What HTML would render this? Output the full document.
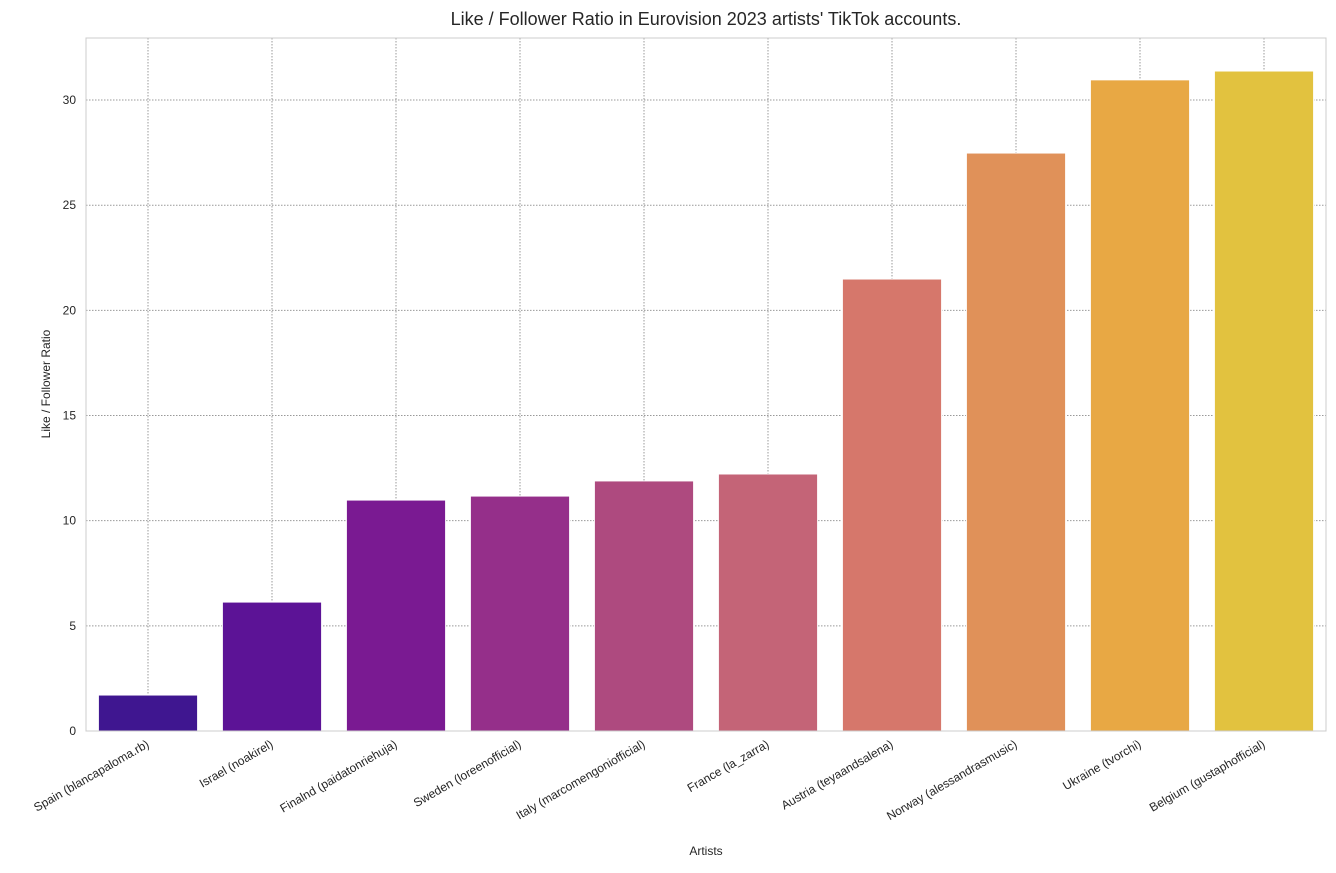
<!DOCTYPE html>
<html><head><meta charset="utf-8"><style>
html,body{margin:0;padding:0;background:#fff;}
svg text{font-family:"Liberation Sans",sans-serif;fill:#262626;}
</style></head><body>
<svg id="chart" width="1336" height="868">
<text x="706" y="25" font-size="18" text-anchor="middle">Like / Follower Ratio in Eurovision 2023 artists' TikTok accounts.</text>
<g id="grid"></g>
<g id="bars"></g>
<rect x="86" y="38" width="1240" height="693" fill="none" stroke="#cccccc" stroke-width="1"/>
<g id="yticks"></g>
<g id="xticks"></g>
<text transform="translate(50,384) rotate(-90)" font-size="12" text-anchor="middle">Like / Follower Ratio</text>
<text x="706" y="855" font-size="12" text-anchor="middle">Artists</text>
</svg>
<script>
const categories=["Spain (blancapaloma.rb)","Israel (noakirel)","Finalnd (paidatonriehuja)","Sweden (loreenofficial)","Italy (marcomengoniofficial)","France (la_zarra)","Austria (teyaandsalena)","Norway (alessandrasmusic)","Ukraine (tvorchi)","Belgium (gustaphofficial)"];
const values=[1.71,6.13,10.98,11.17,11.89,12.22,21.49,27.48,30.96,31.38];
const yTicks=[0,5,10,15,20,25,30];
const colors=["#3f1690","#5c1396","#7a1a92","#952f8a","#ae4a7f","#c46477","#d6776b","#e09159","#e8a844","#e2c23f"];
const X0=86,X1=1326,Y0=731,YT=38,YMAX=32.95;
const ns="http://www.w3.org/2000/svg";
const step=(X1-X0)/categories.length;
function xc(i){return X0+step*(i+0.5);}
function y(v){return Y0-(Y0-YT)*v/YMAX;}
const grid=document.getElementById('grid'),bars=document.getElementById('bars'),yt=document.getElementById('yticks'),xt=document.getElementById('xticks');
function mk(t,a){const e=document.createElementNS(ns,t);for(const k in a)e.setAttribute(k,a[k]);return e;}
yTicks.forEach(v=>{
 const l=mk('line',{x1:X0,x2:X1,y1:y(v),y2:y(v),stroke:'#999',"stroke-dasharray":"1.5,1.5","stroke-width":1});
 
 
 grid.appendChild(l);
 const t=mk('text',{x:X0-10,y:y(v)+4,"font-size":12,"text-anchor":"end"});
 t.textContent=v;
 
 
 yt.appendChild(t);
});
categories.forEach((c,i)=>{
 const l=mk('line',{x1:xc(i),x2:xc(i),y1:YT,y2:Y0,stroke:'#999',"stroke-dasharray":"1.5,1.5","stroke-width":1});
 
 
 grid.appendChild(l);
 const bw=step*0.8;
 const r=mk('rect',{x:xc(i)-bw/2,y:y(values[i]),width:bw,height:Y0-y(values[i]),fill:colors[i],stroke:'#fff','stroke-width':1});
 
 
 bars.appendChild(r);
 const t=mk('text',{x:xc(i),y:Y0+16,"font-size":12,"text-anchor":"end",transform:`rotate(-30 ${xc(i)} ${Y0+12})`});
 t.textContent=c;
 
 
 xt.appendChild(t);
});
</script>
</body></html>
